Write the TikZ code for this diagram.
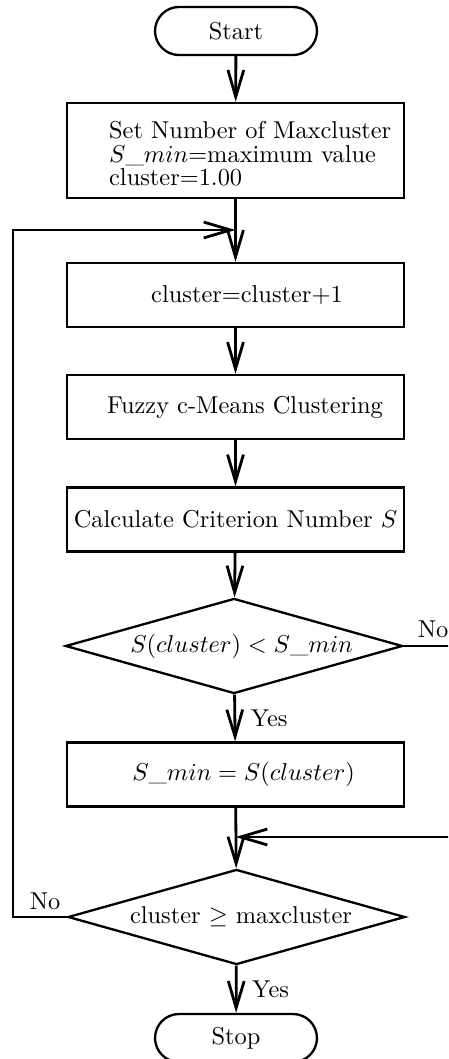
\documentclass[tikz,border=0pt]{standalone}
\usetikzlibrary{arrows.meta,shapes.geometric,shapes.misc}

\begin{document}
\begin{tikzpicture}[
  x=0.41pt, y=-0.41pt,
  line width=0.95pt,
  arr/.style={line width=1.15pt, -{Straight Barb[length=11pt,width=6.5pt,line width=1.15pt]}},
  procbox/.style={draw, rectangle, minimum width=138.2pt, minimum height=26.2pt, inner sep=0pt},
  terminal/.style={draw, rounded rectangle, minimum width=66.4pt, minimum height=19.7pt, inner sep=0pt},
  decision/.style={draw, diamond, aspect=3.5, minimum width=138.2pt, minimum height=39pt, inner sep=0pt},
  lbl/.style={inner sep=1pt}
]
\useasboundingbox (0,0) rectangle (448,1059);
\clip (0,0) rectangle (448,1059);

% process steps
\node[terminal] (start) at (236,31) {Start};
\node[procbox, minimum height=39pt] (init) at (235.5,150.5) {};
\node[anchor=west, align=left, inner sep=0pt] (inittext) at (108,154)
  {Set Number of Maxcluster\\[-2.4pt] $S\_min$=maximum value\\[-2.4pt] cluster=1.00};
\node[procbox] (incr) at (235.5,295) {\hspace*{9.4pt}cluster=cluster+1};
\node[procbox] (fcm) at (235.5,407) {\hspace*{7.8pt}Fuzzy c-Means Clustering};
\node[procbox] (crit) at (235.5,519.5) {Calculate Criterion Number $S$};
\node[decision] (test) at (234,646) {\hspace*{6.2pt}$S(cluster) < S\_min$};
\node[procbox] (upd) at (235.5,774.5) {\hspace*{6.6pt}$S\_min = S(cluster)$};
\node[decision] (done) at (236.5,917) {\hspace*{3.7pt}cluster $\geq$ maxcluster};
\node[terminal] (stop) at (236,1038) {Stop};

% junction points of the two feedback lines
\coordinate (jtop) at (235.5,230);
\coordinate (jbot) at (235.5,837);
\coordinate (loopL) at (13,230);
\coordinate (loopR) at (470,837);

% main flow
\draw[arr] (start) -- (init);
\draw[arr] (init) -- (incr);
\draw[arr] (incr) -- (fcm);
\draw[arr] (fcm) -- (crit);
\draw[arr] (crit) -- (test);
\draw[arr] (test) -- node[right=5pt, lbl] (yes1) {Yes} (upd);
\draw[arr] (upd) -- (done);
\draw[arr] (done) -- node[right=5pt, lbl] (yes2) {Yes} (stop);

% feedback lines
\draw[arr] (done.west) -| (loopL) -- (jtop);
\draw[arr] (test.east) -| (loopR) -- (jbot);

\node[lbl] (no1) at (433,629) {No};
\node[lbl] (no2) at (45,901) {No};
\end{tikzpicture}
\end{document}
